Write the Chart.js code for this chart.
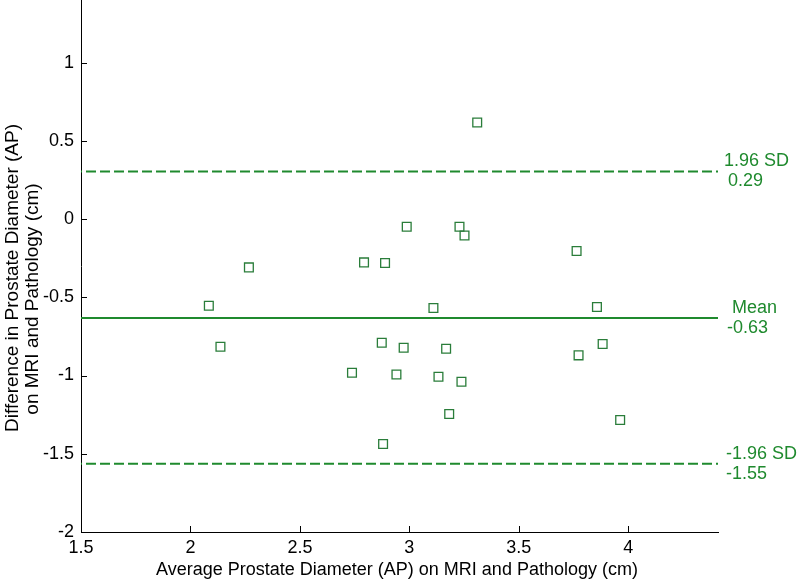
<!DOCTYPE html>
<html>
<head>
<meta charset="utf-8">
<script src="https://cdn.jsdelivr.net/npm/chart.js@4/dist/chart.umd.min.js"></script>
<style>
  html, body { margin: 0; padding: 0; background: #ffffff; }
  #wrap { width: 800px; height: 579px; }
</style>
</head>
<body>
<div id="wrap"><canvas id="c" width="800" height="579"></canvas></div>
<script>
// ---- data ----
const avgDiameter = [2.084, 2.137, 2.267, 2.793, 2.889, 2.738, 2.874, 2.880, 2.941, 2.974,
                     2.988, 3.229, 3.252, 3.310, 3.764, 3.110, 3.857, 3.168, 3.773, 3.883,
                     3.133, 3.238, 3.182, 3.963];
const diffDiameter = [-0.554, -0.816, -0.309, -0.277, -0.281, -0.982, -0.790, -1.438, -0.993, -0.822,
                      -0.049, -0.049, -0.105, 0.617, -0.204, -0.569, -0.562, -0.829, -0.871, -0.799,
                      -1.008, -1.040, -1.246, -1.284];
const meanDiff = -0.633;
const upperLimit = 0.304;
const lowerLimit = -1.564;
const xRange = [1.5, 4.41];
const yRange = [-2, 1.4];
const xTicks = [1.5, 2, 2.5, 3, 3.5, 4];
const yTicks = [-2, -1.5, -1, -0.5, 0, 0.5, 1];
const lineLabels = [
  { value: upperLimit, top: '1.96 SD', bottom: '0.29' },
  { value: meanDiff, top: 'Mean', bottom: '-0.63' },
  { value: lowerLimit, top: '-1.96 SD', bottom: '-1.55' }
];
const xTitle = 'Average Prostate Diameter (AP) on MRI and Pathology (cm)';
const yTitle = ['Difference in Prostate Diameter (AP)', 'on MRI and Pathology (cm)'];

const GREEN = '#1f8a2e';
const MARK = '#2a7d3a';
const FONT = "'Liberation Sans', Arial, sans-serif";

const points = avgDiameter.map((x, i) => ({ x: x, y: diffDiameter[i] }));
const hline = v => [{ x: xRange[0], y: v }, { x: xRange[1], y: v }];

const extras = {
  id: 'extras',
  afterDraw(chart) {
    const ctx = chart.ctx;
    const xs = chart.scales.x, ys = chart.scales.y;
    const area = chart.chartArea;
    ctx.save();
    // inward tick marks
    ctx.strokeStyle = '#000';
    ctx.lineWidth = 1;
    ctx.beginPath();
    xTicks.forEach(v => {
      const px = Math.round(xs.getPixelForValue(v)) + 0.5;
      ctx.moveTo(px, area.bottom);
      ctx.lineTo(px, area.bottom - 6);
    });
    yTicks.forEach(v => {
      const py = Math.round(ys.getPixelForValue(v)) + 0.5;
      ctx.moveTo(area.left, py);
      ctx.lineTo(area.left + 6, py);
    });
    ctx.stroke();
    // line labels on the right
    ctx.fillStyle = GREEN;
    ctx.font = '18px ' + FONT;
    ctx.textAlign = 'left';
    ctx.textBaseline = 'middle';
    lineLabels.forEach((l, i) => {
      const py = ys.getPixelForValue(l.value);
      let tx = area.right + 6, bx = area.right + 10;
      if (i === 1) { tx = area.right + 14; bx = area.right + 9; }
      if (i === 2) { tx = area.right + 8; bx = area.right + 8; }
      ctx.fillText(l.top, tx, py - 10);
      ctx.fillText(l.bottom, bx, py + 10);
    });
    // x axis title
    ctx.fillStyle = '#000';
    ctx.textAlign = 'center';
    ctx.textBaseline = 'alphabetic';
    ctx.fillText(xTitle, 397, 575);
    // y axis title
    ctx.font = '19px ' + FONT;
    ctx.textBaseline = 'middle';
    ctx.save();
    ctx.translate(13, 278);
    ctx.rotate(-Math.PI / 2);
    ctx.fillText(yTitle[0], 0, 0);
    ctx.restore();
    ctx.translate(33, 299);
    ctx.rotate(-Math.PI / 2);
    ctx.fillText(yTitle[1], 0, 0);
    ctx.restore();
  }
};

new Chart(document.getElementById('c'), {
  type: 'scatter',
  data: {
    datasets: [
      {
        label: 'Differences',
        data: points,
        pointStyle: 'rect',
        pointRadius: 6.2,
        borderColor: MARK,
        backgroundColor: 'rgba(0,0,0,0)',
        borderWidth: 1.3,
        showLine: false
      },
      {
        label: 'Upper',
        type: 'line',
        data: hline(upperLimit),
        borderColor: GREEN,
        borderWidth: 2,
        borderDash: [10, 4],
        borderDashOffset: 9,
        pointRadius: 0,
        fill: false
      },
      {
        label: 'Mean',
        type: 'line',
        data: hline(meanDiff),
        borderColor: GREEN,
        borderWidth: 2,
        pointRadius: 0,
        fill: false
      },
      {
        label: 'Lower',
        type: 'line',
        data: hline(lowerLimit),
        borderColor: GREEN,
        borderWidth: 2,
        borderDash: [10, 4],
        borderDashOffset: 9,
        pointRadius: 0,
        fill: false
      }
    ]
  },
  options: {
    responsive: false,
    animation: false,
    devicePixelRatio: 1,
    layout: { autoPadding: false, padding: { left: 0, right: 82, top: 0, bottom: 0 } },
    plugins: { legend: { display: false }, tooltip: { enabled: false } },
    scales: {
      x: {
        type: 'linear',
        min: xRange[0],
        max: xRange[1],
        grid: { display: false, drawTicks: false },
        border: { display: true, color: '#000', width: 1 },
        afterBuildTicks: s => { s.ticks = xTicks.map(v => ({ value: v })); },
        afterFit: s => { s.height = 47; s.paddingLeft = 0; s.paddingRight = 0; },
        ticks: {
          color: '#000',
          font: { family: FONT, size: 18 },
          padding: 5,
          maxRotation: 0,
          callback: v => String(v)
        }
      },
      y: {
        type: 'linear',
        min: yRange[0],
        max: yRange[1],
        grid: { display: false, drawTicks: false },
        border: { display: true, color: '#000', width: 1 },
        afterBuildTicks: s => { s.ticks = yTicks.map(v => ({ value: v })); },
        afterFit: s => { s.width = 81; s.paddingTop = 0; s.paddingBottom = 0; },
        ticks: {
          color: '#000',
          font: { family: FONT, size: 18 },
          padding: 7,
          callback: v => String(v)
        }
      }
    }
  },
  plugins: [extras]
});
</script>
</body>
</html>
